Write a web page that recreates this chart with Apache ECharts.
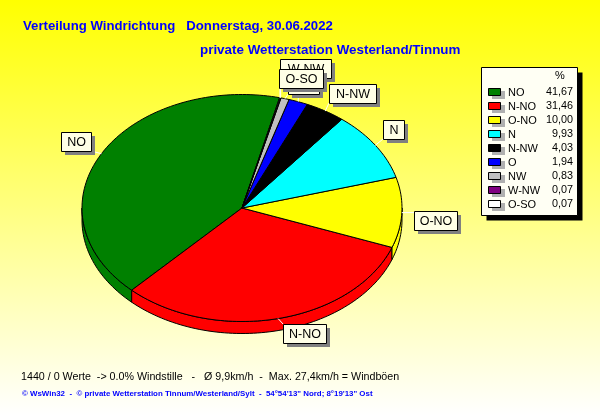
<!DOCTYPE html>
<html><head><meta charset="utf-8">
<style>html,body{margin:0;padding:0;background:#fff}#c{width:600px;height:415px}</style>
<script src="https://cdn.jsdelivr.net/npm/echarts@6/dist/echarts.min.js"></script>
</head><body><div id="c"></div>
<script>
const categories = ['NO','N-NO','O-NO','N','N-NW','O','NW','W-NW','O-SO'];
const values = [41.67,31.46,10.00,9.93,4.03,1.94,0.83,0.07,0.07];
const valueLabels = ['41,67','31,46','10,00','9,93','4,03','1,94','0,83','0,07','0,07'];
const colors = ['#008000','#ff0000','#ffff00','#00ffff','#000000','#0000ff','#c0c0c0','#800080','#ffffff'];
const titleLine1 = 'Verteilung Windrichtung   Donnerstag, 30.06.2022';
const titleLine2 = 'private Wetterstation Westerland/Tinnum';
const footerLine1 = '1440 / 0 Werte  -> 0.0% Windstille   -   Ø 9,9km/h  -  Max. 27,4km/h = Windböen';
const footerLine2 = '© WsWin32  -  © private Wetterstation Tinnum/Westerland/Sylt  -  54°54\'13" Nord; 8°19\'13" Ost';

// layout only
const pie = {cx:242, cy:208, rx:160, ry:113.5, depth:12, start:76.4};
const labelBoxes = [[61,132,30],[283,324,43],[414,211,43],[383,120,21],[329,84,47],[296,75,23],[288,75,31],[280,59,51],[279,69,44]];

const total = values.reduce((a,b)=>a+b,0);
let acc = 0;
const spans = values.map(v=>{const a=pie.start+acc/total*360;acc+=v;return [a,pie.start+acc/total*360];});
const pt = (deg,dy=0)=>{const t=deg*Math.PI/180;return [pie.cx+pie.rx*Math.cos(t),pie.cy-pie.ry*Math.sin(t)+dy];};
const arc = (a,b,dy=0)=>{const n=Math.max(2,Math.ceil((b-a)/1.5));const o=[];for(let i=0;i<=n;i++)o.push(pt(a+(b-a)*i/n,dy));return o;};

function renderTop(p,api){
  const i=api.value(0), s=spans[i];
  return {type:'polygon',shape:{points:[[pie.cx,pie.cy],...arc(s[0],s[1])]},
    style:{fill:colors[i],stroke:'#000',lineWidth:1}};
}
function renderSide(p,api){
  const i=api.value(0), s=spans[i];
  const a=Math.max(s[0],180), b=Math.min(s[1],360);
  if(b<=a) return {type:'group',children:[]};
  const top=arc(a,b), bot=arc(a,b,pie.depth).reverse();
  return {type:'polygon',shape:{points:[...top,...bot]},style:{fill:colors[i],stroke:'#000',lineWidth:1}};
}
function renderLabel(p,api){
  const i=api.value(0), s=spans[i], [x,y,w]=labelBoxes[i], h=19;
  const e=pt((s[0]+s[1])/2);
  const bx=Math.min(Math.max(e[0],x),x+w), by=Math.min(Math.max(e[1],y),y+h);
  return {type:'group',children:[
    {type:'line',shape:{x1:e[0],y1:e[1],x2:bx,y2:by},style:{stroke:'#fff',lineWidth:1}},
    {type:'rect',shape:{x:x+4,y:y+4,width:w,height:h},style:{fill:'#808080'}},
    {type:'rect',shape:{x:x+.5,y:y+.5,width:w,height:h},style:{fill:'#ffffe6',stroke:'#000',lineWidth:1}},
    {type:'text',style:{x:x+w/2+.5,y:y+h/2+1,text:categories[i],align:'center',verticalAlign:'middle',
      font:'12.5px "Liberation Sans"',fill:'#000'}}
  ]};
}
const idx = categories.map((c,i)=>[i,values[i]]);

// legend built from the arrays
const lg={x:481.5,y:67.5,w:96,h:148,rowY:92,rowH:14};
const legend=[
  {type:'rect',shape:{x:lg.x+5,y:lg.y+5,width:lg.w,height:lg.h},style:{fill:'#000'}},
  {type:'rect',shape:{x:lg.x,y:lg.y,width:lg.w,height:lg.h},style:{fill:'#fffff4',stroke:'#000',lineWidth:1}},
  {type:'text',style:{x:560,y:76,text:'%',align:'center',verticalAlign:'middle',font:'11px "Liberation Sans"',fill:'#000'}}
];
categories.forEach((c,i)=>{
  const y=lg.rowY+i*lg.rowH;
  legend.push(
    {type:'rect',shape:{x:492,y:y-1,width:13,height:8},style:{fill:'#b0b0b0'}},
    {type:'rect',shape:{x:488.5,y:y-3.5,width:12,height:7},style:{fill:colors[i],stroke:'#000',lineWidth:1}},
    {type:'text',style:{x:508,y:y+.5,text:c,align:'left',verticalAlign:'middle',font:'11px "Liberation Sans"',fill:'#000'}},
    {type:'text',style:{x:573,y:y+.5,text:valueLabels[i],align:'right',verticalAlign:'middle',font:'10.8px "Liberation Sans"',fill:'#000'}}
  );
});

const chart=echarts.init(document.getElementById('c'),null,{renderer:'canvas',width:600,height:415});
chart.setOption({
  animation:false,
  backgroundColor:{type:'linear',x:0,y:0,x2:0,y2:1,colorStops:[{offset:0,color:'#ffff00'},{offset:1,color:'#ffffff'}]},
  title:[
    {text:titleLine1,left:18,top:15,textStyle:{color:'#0000ff',fontFamily:'Liberation Sans',fontWeight:'bold',fontSize:13.2}},
    {text:titleLine2,left:195,top:39,textStyle:{color:'#0000ff',fontFamily:'Liberation Sans',fontWeight:'bold',fontSize:13.4}}
  ],
  graphic:[
    ...legend.map(e=>Object.assign(e,{silent:true,z:50})),
    {type:'text',silent:true,style:{x:21,y:377,text:footerLine1,verticalAlign:'middle',font:'10.7px "Liberation Sans"',fill:'#000'}},
    {type:'text',silent:true,style:{x:22,y:394,text:footerLine2,verticalAlign:'middle',font:'bold 7.9px "Liberation Sans"',fill:'#0000ff'}}
  ],
  series:[
    {type:'custom',name:'Seite',coordinateSystem:'none',renderItem:renderSide,data:idx,z:1,silent:true},
    {type:'custom',name:'Windrichtung',coordinateSystem:'none',renderItem:renderTop,data:idx,z:2,silent:true},
    {type:'custom',name:'Beschriftung',coordinateSystem:'none',renderItem:renderLabel,data:idx,z:3,silent:true}
  ]
});
</script></body></html>
